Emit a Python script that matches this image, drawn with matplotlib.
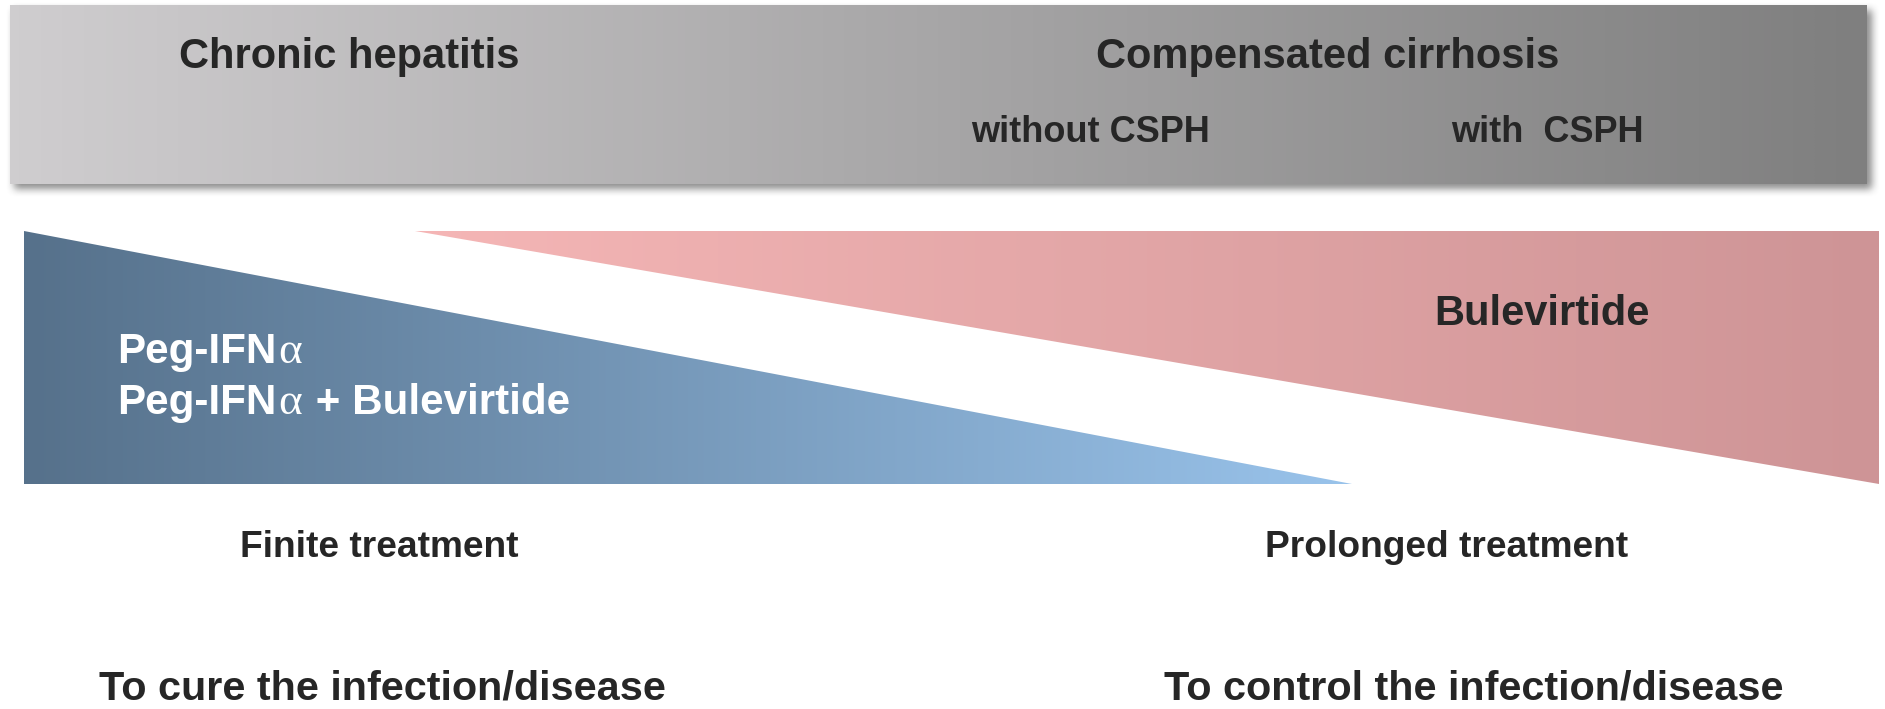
import numpy as np
import matplotlib
matplotlib.use("Agg")
import matplotlib.pyplot as plt
from matplotlib.patches import Polygon, Rectangle
from matplotlib.colors import LinearSegmentedColormap

W, H = 1885, 709
DPI = 100

# Header band: disease stages
stage_labels = ["Chronic hepatitis", "Compensated cirrhosis"]
stage_centers = [349, 1328]
substage_labels = ["without CSPH", "with  CSPH"]
substage_centers = [1090, 1547]
header_box = [10, 5, 1867, 184]          # x0, y0, x1, y1 (pixels, y downwards)
header_colors = ["#cfcdcf", "#7f7f7f"]

# Treatment wedges
finite_wedge = [(24, 231), (24, 484), (1352, 484)]
prolonged_wedge = [(415, 231), (1879, 231), (1879, 484)]
finite_colors = ["#56718b", "#99c3eb"]
prolonged_colors = ["#f5b6b6", "#ce9496"]
finite_drugs = ["Peg-IFN", "Peg-IFN"]
finite_drug_suffix = ["", " + Bulevirtide"]
prolonged_drug = "Bulevirtide"

# Captions below the wedges
duration_labels = ["Finite treatment", "Prolonged treatment"]
duration_centers = [379, 1447]
goal_labels = ["To cure the infection/disease", "To control the infection/disease"]
goal_centers = [382, 1474]

DARK = "#262626"
SANS = "Liberation Sans"
SERIF = "Liberation Serif"

fig = plt.figure(figsize=(W / DPI, H / DPI), dpi=DPI)
ax = fig.add_axes([0, 0, 1, 1])
ax.set_xlim(0, W)
ax.set_ylim(H, 0)
ax.axis("off")


def hgrad(x0, x1, y0, y1, colors, clip=None, z=1):
    cmap = LinearSegmentedColormap.from_list("g", colors)
    grad = np.linspace(0, 1, 512)[None, :]
    im = ax.imshow(grad, cmap=cmap, extent=(x0, x1, y1, y0), aspect="auto",
                   interpolation="bilinear", zorder=z)
    if clip is not None:
        im.set_clip_path(clip)
    return im


# soft drop shadow under the header band
x0, y0, x1, y1 = header_box
pad = 20
sx0, sy0, sx1, sy1 = x0 - pad, y0 - pad, x1 + pad, y1 + pad
sw, sh = sx1 - sx0, sy1 - sy0
mask = np.zeros((sh, sw))
dx, dy = 4, 5
mask[(y0 - sy0) + dy:(y1 - sy0) + dy, (x0 - sx0) + dx:(x1 - sx0) + dx] = 1.0
k = np.ones(9) / 9.0
for _ in range(2):
    mask = np.apply_along_axis(lambda r: np.convolve(r, k, mode="same"), 1, mask)
    mask = np.apply_along_axis(lambda c: np.convolve(c, k, mode="same"), 0, mask)
shadow = np.zeros((sh, sw, 4))
shadow[..., :3] = 0.25
shadow[..., 3] = mask * 0.6
ax.imshow(shadow, extent=(sx0, sx1, sy1, sy0), aspect="auto", zorder=1,
          interpolation="bilinear")

# header band gradient
rect = Rectangle((x0, y0), x1 - x0, y1 - y0, facecolor="none", edgecolor="none",
                 transform=ax.transData)
ax.add_patch(rect)
hgrad(x0, x1, y0, y1, header_colors, clip=rect, z=2)

# wedges
for verts, cols in [(finite_wedge, finite_colors), (prolonged_wedge, prolonged_colors)]:
    poly = Polygon(verts, closed=True, facecolor="none", edgecolor="none")
    ax.add_patch(poly)
    xs = [v[0] for v in verts]
    ys = [v[1] for v in verts]
    hgrad(min(xs), max(xs), min(ys), max(ys), cols, clip=poly, z=2)

# header text
for lab, cx in zip(stage_labels, stage_centers):
    ax.text(cx, 68, lab, ha="center", va="baseline", fontsize=30,
            fontweight="bold", family=SANS, color=DARK, zorder=5)
for lab, cx in zip(substage_labels, substage_centers):
    ax.text(cx, 142, lab, ha="center", va="baseline", fontsize=26,
            fontweight="bold", family=SANS, color=DARK, zorder=5)

# wedge labels: bold drug names with a serif alpha
fig.canvas.draw()
renderer = fig.canvas.get_renderer()
inv = ax.transData.inverted()
for i, (base, suffix) in enumerate(zip(finite_drugs, finite_drug_suffix)):
    yb = 363 + 51 * i
    t = ax.text(117, yb, base, ha="left", va="baseline", fontsize=30.3,
                fontweight="bold", family=SANS, color="white", zorder=5)
    bb = t.get_window_extent(renderer)
    xa = inv.transform((bb.x1, 0))[0] + 2
    a = ax.text(xa, yb, "\u03b1", ha="left", va="baseline", fontsize=32.5,
                family=SERIF, color="white", zorder=5)
    if suffix:
        bb2 = a.get_window_extent(renderer)
        xs = inv.transform((bb2.x1, 0))[0] + 2
        ax.text(xs, yb, suffix, ha="left", va="baseline", fontsize=30.3,
                fontweight="bold", family=SANS, color="white", zorder=5)

ax.text(1542, 325, prolonged_drug, ha="center", va="baseline", fontsize=30,
        fontweight="bold", family=SANS, color=DARK, zorder=5)

# captions
for lab, cx in zip(duration_labels, duration_centers):
    ax.text(cx, 557, lab, ha="center", va="baseline", fontsize=26.7,
            fontweight="bold", family=SANS, color=DARK, zorder=5)
for lab, cx in zip(goal_labels, goal_centers):
    ax.text(cx, 699, lab, ha="center", va="baseline", fontsize=29.8,
            fontweight="bold", family=SANS, color=DARK, zorder=5)

fig.savefig("out.png", dpi=DPI, facecolor="white")
